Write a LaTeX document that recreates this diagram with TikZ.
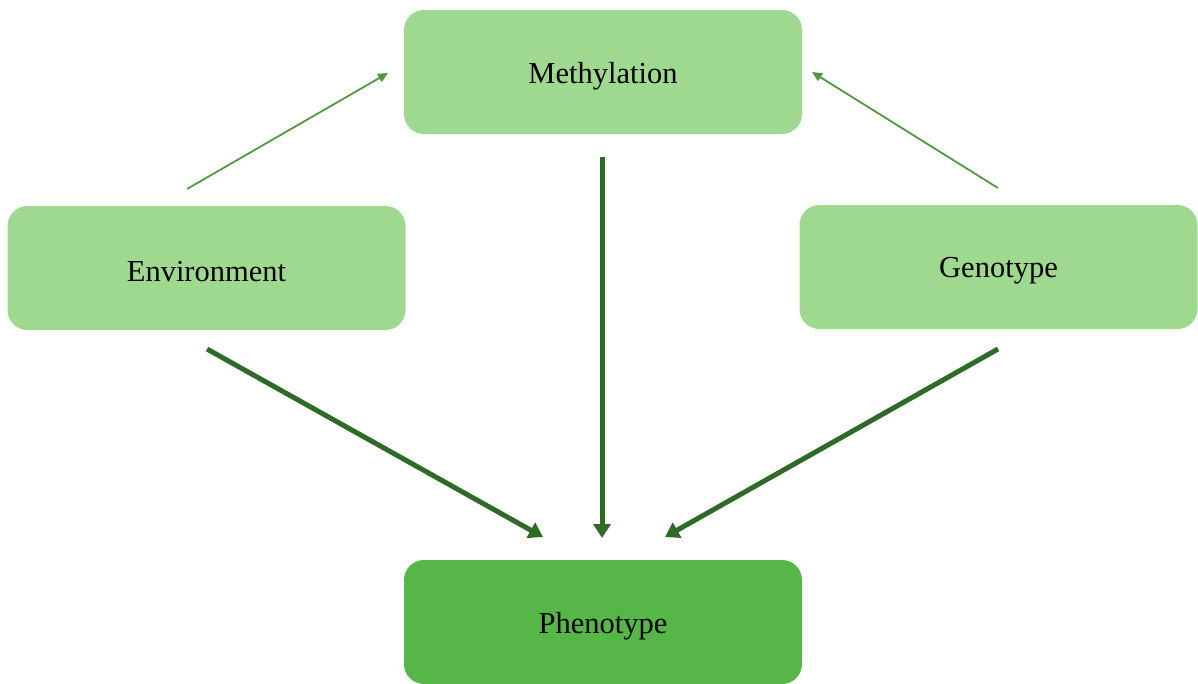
\documentclass[tikz,border=0pt]{standalone}
\usepackage{fontspec}
\setmainfont{Liberation Serif}
\usetikzlibrary{arrows.meta}
\definecolor{lightbox}{HTML}{9FD98F}
\definecolor{darkbox}{HTML}{56B648}
\definecolor{thick}{HTML}{2E6B26}
\definecolor{thin}{HTML}{53983F}
\newcommand{\lowtxt}[1]{\raisebox{-4pt}[\height][\depth]{#1}}
\begin{document}
\begin{tikzpicture}[x=1pt,y=-1pt,
  box/.style={fill=lightbox, draw=none, rounded corners=20pt, minimum width=398pt, minimum height=124pt, inner sep=0pt, font=\fontsize{30.5}{34}\selectfont},
  strong/.style={draw=thick, line width=5pt, -{Triangle[length=14pt,width=17pt]}},
  weak/.style={draw=thin, line width=1.8pt, -{Triangle[length=10pt,width=9pt]}}]
\useasboundingbox (0,0) rectangle (1198,683);
\node[box] (meth) at (603,72) {\lowtxt{Methylation}};
\node[box] (env) at (206.5,268) {\lowtxt{Environment}};
\node[box] (gen) at (998.5,267) {\lowtxt{Genotype}};
\node[box, fill=darkbox] (phen) at (603,622) {\lowtxt{Phenotype}};
\coordinate (e1) at (187,189); \coordinate (e2) at (388,73);
\coordinate (g1) at (998,188); \coordinate (g2) at (812,72);
\coordinate (m1) at (602,157); \coordinate (m2) at (602,538);
\coordinate (p1) at (207,349); \coordinate (p2) at (543,537);
\coordinate (q1) at (998,349); \coordinate (q2) at (665,537);
\draw[weak] (e1) -- (e2);
\draw[weak] (g1) -- (g2);
\draw[strong] (m1) -- (m2);
\draw[strong] (p1) -- (p2);
\draw[strong] (q1) -- (q2);
\end{tikzpicture}
\end{document}
